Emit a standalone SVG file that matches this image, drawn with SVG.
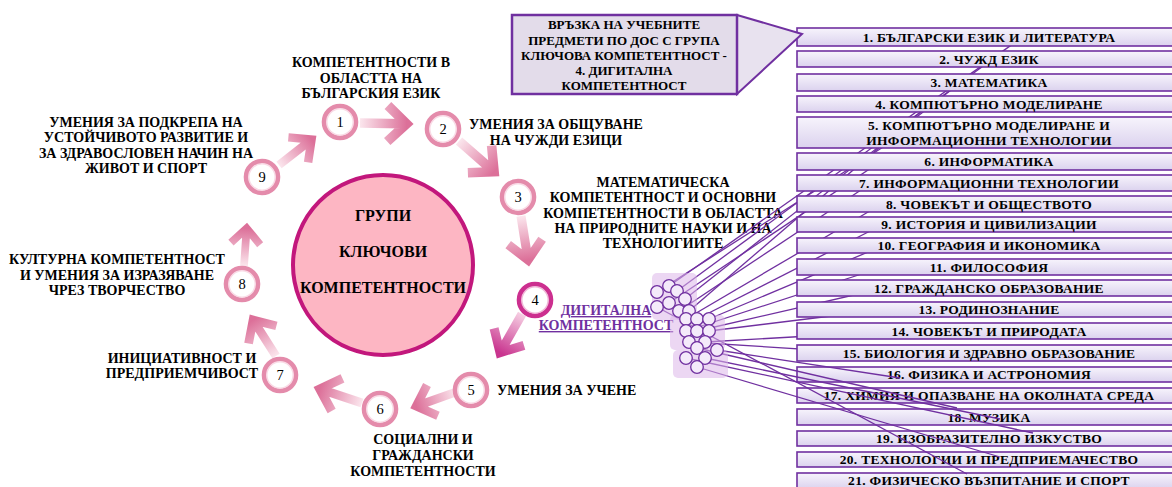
<svg xmlns="http://www.w3.org/2000/svg" xmlns:xlink="http://www.w3.org/1999/xlink" width="1172" height="487" viewBox="0 0 1172 487">
<defs>
<linearGradient id="ag" x1="0" y1="0" x2="1" y2="0"><stop offset="0" stop-color="#fbe6ed"/><stop offset="1" stop-color="#dc7099"/></linearGradient>
<linearGradient id="ag4" x1="0" y1="0" x2="1" y2="0"><stop offset="0" stop-color="#f6cfe3"/><stop offset="1" stop-color="#c9358f"/></linearGradient>
<linearGradient id="boxg" x1="0" y1="0" x2="0" y2="1"><stop offset="0" stop-color="#f7f4fc"/><stop offset="1" stop-color="#dbd2ee"/></linearGradient>
<path id="arr" d="M0,0 H40 M26,-17 L44,0 L26,17" fill="none" stroke="url(#ag)" stroke-width="9"/>
<path id="arr4" d="M0,0 H40 M26,-17 L44,0 L26,17" fill="none" stroke="url(#ag4)" stroke-width="9"/>
</defs>
<style>
text{font-family:"Liberation Serif","Times New Roman",serif;}
.lbl{font-weight:bold;font-size:14px;fill:#000;text-anchor:middle}
.box rect{fill:url(#boxg);stroke:#7030a0;stroke-width:1.6}
.box text{font-weight:bold;font-size:13.5px;fill:#000;text-anchor:middle;letter-spacing:0.3px}
.ring{fill:#fff;stroke:#e48bab;stroke-width:5}
.ringin{fill:none;stroke:#f9dbe6;stroke-width:1.5}
.num{font-size:14.5px;fill:#000;text-anchor:middle}
.bub{fill:#f4eafa;stroke:#7030a0;stroke-width:1.3}
.link{stroke:#7030a0;stroke-width:1.3;fill:none}
.pad{fill:#dcb6ea;opacity:0.55}
</style>
<rect width="1172" height="487" fill="#fff"/>

<!-- central node -->
<g id="center">
<circle cx="383" cy="265" r="90" fill="#fdb6c3" stroke="#c2177c" stroke-width="4"/>
<text class="lbl" style="font-size:16px" x="383" y="221">ГРУПИ</text>
<text class="lbl" style="font-size:16px" x="383" y="257">КЛЮЧОВИ</text>
<text class="lbl" style="font-size:16px" x="383" y="293">КОМПЕТЕНТНОСТИ</text>
</g>

<!-- cycle arrows -->
<g id="cycle-arrows">
<use href="#arr" transform="translate(360,123) rotate(1.1) scale(1.06)"/>
<use href="#arr" transform="translate(459,141) rotate(41.2) scale(1.06)"/>
<use href="#arr" transform="translate(521,216) rotate(80.9) scale(1.01)"/>
<use href="#arr4" transform="translate(522,314) rotate(119.6) scale(1.01)"/>
<use href="#arr" transform="translate(456,392) rotate(160.4) scale(0.96)"/>
<use href="#arr" transform="translate(362,403) rotate(198.4) scale(1.01)"/>
<use href="#arr" transform="translate(276,356) rotate(237.6) scale(0.97)"/>
<use href="#arr" transform="translate(244,266) rotate(274) scale(0.86)"/>
<use href="#arr" transform="translate(279,165) rotate(321.9) scale(0.94)"/>
</g>

<g id="n1"><circle class="ring" cx="340" cy="122" r="15.8"/><circle class="ringin" cx="340" cy="122" r="13.2"/><text class="num" x="340" y="127">1</text>
<text class="lbl" x="371" y="67">КОМПЕТЕНТНОСТИ В</text><text class="lbl" x="371" y="83">ОБЛАСТТА НА</text><text class="lbl" x="371" y="98">БЪЛГАРСКИЯ ЕЗИК</text></g>
<g id="n2"><circle class="ring" cx="443" cy="129" r="15.8"/><circle class="ringin" cx="443" cy="129" r="13.2"/><text class="num" x="443" y="134">2</text>
<text class="lbl" x="556" y="129">УМЕНИЯ ЗА ОБЩУВАНЕ</text><text class="lbl" x="556" y="145">НА ЧУЖДИ ЕЗИЦИ</text></g>
<g id="n3"><circle class="ring" cx="518" cy="197" r="15.8"/><circle class="ringin" cx="518" cy="197" r="13.2"/><text class="num" x="518" y="202">3</text>
<text class="lbl" x="663" y="187">МАТЕМАТИЧЕСКА</text><text class="lbl" x="663" y="202">КОМПЕТЕНТНОСТ И ОСНОВНИ</text><text class="lbl" x="663" y="218">КОМПЕТЕНТНОСТИ В ОБЛАСТТА</text><text class="lbl" x="663" y="233">НА ПРИРОДНИТЕ НАУКИ И НА</text><text class="lbl" x="663" y="248">ТЕХНОЛОГИИТЕ</text></g>
<g id="n5"><circle class="ring" cx="471" cy="390" r="15.8"/><circle class="ringin" cx="471" cy="390" r="13.2"/><text class="num" x="471" y="395">5</text>
<text class="lbl" style="text-anchor:start" x="497" y="395">УМЕНИЯ ЗА УЧЕНЕ</text></g>
<g id="n6"><circle class="ring" cx="380" cy="409" r="15.8"/><circle class="ringin" cx="380" cy="409" r="13.2"/><text class="num" x="380" y="414">6</text>
<text class="lbl" x="423" y="444">СОЦИАЛНИ И</text><text class="lbl" x="423" y="460">ГРАЖДАНСКИ</text><text class="lbl" x="423" y="476">КОМПЕТЕНТНОСТИ</text></g>
<g id="n7"><circle class="ring" cx="280" cy="375" r="15.8"/><circle class="ringin" cx="280" cy="375" r="13.2"/><text class="num" x="280" y="380">7</text>
<text class="lbl" x="182" y="363">ИНИЦИАТИВНОСТ И</text><text class="lbl" x="182" y="378">ПРЕДПРИЕМЧИВОСТ</text></g>
<g id="n8"><circle class="ring" cx="242" cy="284" r="15.8"/><circle class="ringin" cx="242" cy="284" r="13.2"/><text class="num" x="242" y="289">8</text>
<text class="lbl" x="117" y="264">КУЛТУРНА КОМПЕТЕНТНОСТ</text><text class="lbl" x="117" y="280">И УМЕНИЯ ЗА ИЗРАЗЯВАНЕ</text><text class="lbl" x="117" y="295">ЧРЕЗ ТВОРЧЕСТВО</text></g>
<g id="n9"><circle class="ring" cx="262" cy="177" r="15.8"/><circle class="ringin" cx="262" cy="177" r="13.2"/><text class="num" x="262" y="182">9</text>
<text class="lbl" x="146" y="127">УМЕНИЯ ЗА ПОДКРЕПА НА</text><text class="lbl" x="146" y="142">УСТОЙЧИВОТО РАЗВИТИЕ И</text><text class="lbl" x="146" y="158">ЗА ЗДРАВОСЛОВЕН НАЧИН НА</text><text class="lbl" x="146" y="173">ЖИВОТ И СПОРТ</text></g>

<!-- connectors behind subject boxes -->
<g id="connectors">
<g id="links-back">
<line class="link" x1="669" y1="286" x2="1020" y2="39"/>
<line class="link" x1="677" y1="291" x2="990" y2="61"/>
<line class="link" x1="685" y1="299" x2="960" y2="83"/>
<line class="link" x1="689" y1="311" x2="930" y2="104"/>
<line class="link" x1="657" y1="292" x2="905" y2="133"/>
<line class="link" x1="669" y1="303" x2="880" y2="162"/>
<line class="link" x1="679" y1="311" x2="870" y2="184"/>
<line class="link" x1="686" y1="319" x2="880" y2="205"/>
<line class="link" x1="697" y1="319" x2="880" y2="226"/>
<line class="link" x1="709" y1="319" x2="880" y2="247"/>
<line class="link" x1="686" y1="331" x2="880" y2="268"/>
<line class="link" x1="697" y1="331" x2="880" y2="289"/>
<line class="link" x1="709" y1="331" x2="880" y2="310"/>
<line class="link" x1="705" y1="342" x2="880" y2="332"/>
<line class="link" x1="689" y1="342" x2="880" y2="354"/>
</g>
</g>

<!-- subject boxes -->
<g id="subjects" class="box">
<g id="s1"><rect x="797" y="28" width="380" height="18"/><text x="989" y="41.5">1. БЪЛГАРСКИ ЕЗИК И ЛИТЕРАТУРА</text></g>
<g id="s2"><rect x="797" y="51" width="380" height="16"/><text x="989" y="63.5">2. ЧУЖД ЕЗИК</text></g>
<g id="s3"><rect x="797" y="74" width="380" height="17"/><text x="989" y="87">3. МАТЕМАТИКА</text></g>
<g id="s4"><rect x="797" y="96" width="380" height="16"/><text x="989" y="108.5">4. КОМПЮТЪРНО МОДЕЛИРАНЕ</text></g>
<g id="s5"><rect x="797" y="117" width="380" height="31"/><text x="989" y="129.5">5. КОМПЮТЪРНО МОДЕЛИРАНЕ И</text><text x="989" y="144.5">ИНФОРМАЦИОННИ ТЕХНОЛОГИИ</text></g>
<g id="s6"><rect x="797" y="153" width="380" height="17"/><text x="989" y="166">6. ИНФОРМАТИКА</text></g>
<g id="s7"><rect x="797" y="175" width="380" height="16"/><text x="989" y="187.5">7. ИНФОРМАЦИОННИ ТЕХНОЛОГИИ</text></g>
<g id="s8"><rect x="797" y="196" width="380" height="16"/><text x="989" y="208.5">8. ЧОВЕКЪТ И ОБЩЕСТВОТО</text></g>
<g id="s9"><rect x="797" y="217" width="380" height="15"/><text x="989" y="229">9. ИСТОРИЯ И ЦИВИЛИЗАЦИИ</text></g>
<g id="s10"><rect x="797" y="238" width="380" height="15"/><text x="989" y="250">10. ГЕОГРАФИЯ И ИКОНОМИКА</text></g>
<g id="s11"><rect x="797" y="259" width="380" height="16"/><text x="989" y="271.5">11. ФИЛОСОФИЯ</text></g>
<g id="s12"><rect x="797" y="280" width="380" height="16"/><text x="989" y="292.5">12. ГРАЖДАНСКО ОБРАЗОВАНИЕ</text></g>
<g id="s13"><rect x="797" y="302" width="380" height="15"/><text x="989" y="314">13. РОДИНОЗНАНИЕ</text></g>
<g id="s14"><rect x="797" y="323" width="380" height="16"/><text x="989" y="335.5">14. ЧОВЕКЪТ И ПРИРОДАТА</text></g>
<g id="s15"><rect x="797" y="345" width="380" height="16"/><text x="989" y="357.5">15. БИОЛОГИЯ И ЗДРАВНО ОБРАЗОВАНИЕ</text></g>
<g id="s16"><rect x="797" y="367" width="380" height="15"/><text x="989" y="379">16. ФИЗИКА И АСТРОНОМИЯ</text></g>
<g id="s17"><rect x="797" y="388" width="380" height="15"/><text x="989" y="400">17. ХИМИЯ И ОПАЗВАНЕ НА ОКОЛНАТА СРЕДА</text></g>
<g id="s18"><rect x="797" y="409" width="380" height="16"/><text x="989" y="421.5">18. МУЗИКА</text></g>
<g id="s19"><rect x="797" y="431" width="380" height="15"/><text x="989" y="443">19. ИЗОБРАЗИТЕЛНО ИЗКУСТВО</text></g>
<g id="s20"><rect x="797" y="452" width="380" height="15"/><text x="989" y="464">20. ТЕХНОЛОГИИ И ПРЕДПРИЕМАЧЕСТВО</text></g>
<g id="s21"><rect x="797" y="473" width="380" height="16"/><text x="989" y="485">21. ФИЗИЧЕСКО ВЪЗПИТАНИЕ И СПОРТ</text></g>
</g>

<!-- connectors over subject boxes -->
<g id="links-front">
<line class="link" x1="717" y1="350" x2="900" y2="378"/>
<line class="link" x1="697" y1="348" x2="957" y2="408"/>
<line class="link" x1="705" y1="358" x2="1000" y2="419"/>
<line class="link" x1="686" y1="358" x2="1033" y2="433"/>
<line class="link" x1="697" y1="367" x2="1000" y2="457"/>
<line class="link" x1="657" y1="307" x2="967" y2="474"/>
</g>

<!-- node 4 with bubble cluster -->
<g id="n4">
<circle class="ring" style="stroke:#cc2f8f" cx="535" cy="300" r="15.8"/><circle class="ringin" style="stroke:#f0b8d8" cx="535" cy="300" r="13.2"/><text class="num" x="535" y="305">4</text>
<text class="lbl" style="fill:#7030a0;text-decoration:underline" x="606" y="315">ДИГИТАЛНА</text>
<text class="lbl" style="fill:#7030a0;text-decoration:underline" x="606" y="330">КОМПЕТЕНТНОСТ</text>
</g>
<g id="cluster">
<rect class="pad" x="652" y="273" width="45" height="47" rx="5"/>
<rect class="pad" x="670" y="315" width="55" height="35" rx="5"/>
<rect class="pad" x="673" y="350" width="55" height="28" rx="5"/>
<circle class="bub" cx="657" cy="292" r="6.3"/><circle class="bub" cx="669" cy="286" r="6.3"/><circle class="bub" cx="677" cy="291" r="6.3"/><circle class="bub" cx="685" cy="299" r="6.3"/>
<circle class="bub" cx="657" cy="307" r="6.3"/><circle class="bub" cx="669" cy="303" r="6.3"/><circle class="bub" cx="679" cy="311" r="6.3"/><circle class="bub" cx="689" cy="311" r="6.3"/>
<circle class="bub" cx="686" cy="319" r="6.3"/><circle class="bub" cx="697" cy="319" r="6.3"/><circle class="bub" cx="709" cy="319" r="6.3"/>
<circle class="bub" cx="686" cy="331" r="6.3"/><circle class="bub" cx="697" cy="331" r="6.3"/><circle class="bub" cx="709" cy="331" r="6.3"/>
<circle class="bub" cx="689" cy="342" r="6.3"/><circle class="bub" cx="705" cy="342" r="6.3"/><circle class="bub" cx="697" cy="348" r="6.3"/><circle class="bub" cx="717" cy="350" r="6.3"/>
<circle class="bub" cx="686" cy="358" r="6.3"/><circle class="bub" cx="705" cy="358" r="6.3"/><circle class="bub" cx="697" cy="367" r="6.3"/>
</g>

<!-- callout -->
<g id="callout">
<polygon points="737,15 802,34 737,94" fill="#e8e2ef" stroke="#7030a0" stroke-width="2" stroke-linejoin="miter"/>
<rect x="512" y="15" width="225" height="79" fill="#e3dcea" stroke="#7030a0" stroke-width="2.5"/>
<text class="lbl" style="font-size:13px" x="624" y="29">ВРЪЗКА НА УЧЕБНИТЕ</text>
<text class="lbl" style="font-size:13px" x="624" y="44.5">ПРЕДМЕТИ ПО ДОС С ГРУПА</text>
<text class="lbl" style="font-size:13px" x="624" y="60">КЛЮЧОВА КОМПЕТЕНТНОСТ -</text>
<text class="lbl" style="font-size:13px" x="624" y="75">4. ДИГИТАЛНА</text>
<text class="lbl" style="font-size:13px" x="624" y="90">КОМПЕТЕНТНОСТ</text>
</g>
</svg>
